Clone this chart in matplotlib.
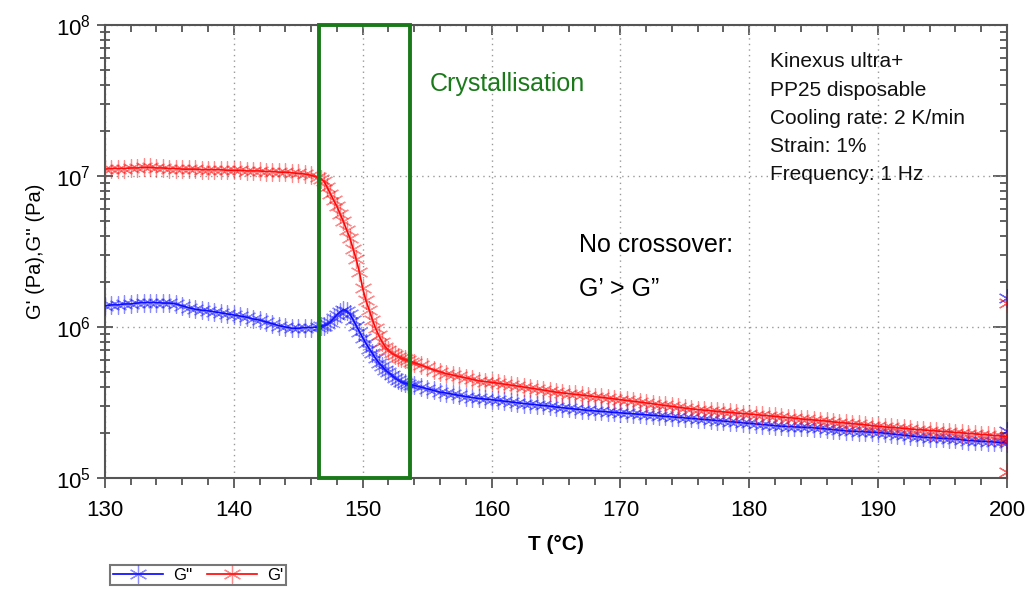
import numpy as np
import matplotlib.pyplot as plt
from matplotlib.patches import Rectangle
from matplotlib.ticker import LogLocator, MultipleLocator, NullFormatter

plt.rcParams['font.family'] = ['Liberation Sans', 'DejaVu Sans']

# temperature sampling, degC (denser through the crystallisation drop)
temp = np.concatenate([np.arange(130, 146.01, 0.5),
                       np.arange(146.5, 153.76, 0.25),
                       np.arange(154, 200.01, 0.5)])

# G' storage modulus (MPa)
g_storage_melt = [
    11.1, 11.2, 11.2, 11.2, 11.3, 11.3, 11.4, 11.4, 11.3, 11.3,   # 130-134.5
    11.2, 11.2, 11.1, 11.1, 11.1, 11.0, 11.0, 11.0, 11.0, 10.9,   # 135-139.5
    10.9, 10.9, 10.8, 10.8, 10.8, 10.7, 10.7, 10.6, 10.6, 10.5,   # 140-144.5
    10.4, 10.3, 10.1,                                             # 145-146
]
g_storage_drop = [
    9.8, 9.6, 9.2, 8.4, 7.6, 6.9, 6.3, 5.6, 5.0, 4.4,             # 146.5-148.75
    3.9, 3.3, 2.8, 2.3, 1.8, 1.5, 1.3, 1.12, 0.98, 0.88,          # 149-151.25
    0.80, 0.74, 0.70, 0.67, 0.65, 0.635, 0.62, 0.61, 0.60, 0.59,  # 151.5-153.75
]
g_storage_solid = [
    0.58, 0.56,                                                   # 154-154.5
    0.54, 0.52, 0.505, 0.49, 0.48, 0.47, 0.46, 0.45, 0.44, 0.435, # 155-159.5
    0.43, 0.424, 0.418, 0.412, 0.406, 0.40, 0.394, 0.388, 0.382, 0.376,  # 160-164.5
    0.37, 0.366, 0.362, 0.358, 0.354, 0.35, 0.346, 0.342, 0.338, 0.334,  # 165-169.5
    0.33, 0.326, 0.322, 0.318, 0.314, 0.31, 0.306, 0.302, 0.298, 0.294,  # 170-174.5
    0.29, 0.287, 0.284, 0.281, 0.279, 0.276, 0.274, 0.272, 0.269, 0.267,  # 175-179.5
    0.265, 0.263, 0.26, 0.258, 0.256, 0.253, 0.251, 0.249, 0.246, 0.244,  # 180-184.5
    0.242, 0.24, 0.238, 0.235, 0.233, 0.231, 0.229, 0.227, 0.225, 0.222,  # 185-189.5
    0.22, 0.218, 0.216, 0.215, 0.213, 0.211, 0.209, 0.208, 0.206, 0.205,  # 190-194.5
    0.203, 0.202, 0.2, 0.199, 0.197, 0.196, 0.194, 0.193, 0.191, 0.19,   # 195-199.5
    0.188,                                                           # 200
]

# G'' loss modulus (MPa)
g_loss_melt = [
    1.38, 1.40, 1.40, 1.42, 1.42, 1.44, 1.45, 1.45, 1.45, 1.44,   # 130-134.5
    1.44, 1.42, 1.38, 1.34, 1.31, 1.29, 1.28, 1.26, 1.24, 1.22,   # 135-139.5
    1.20, 1.18, 1.16, 1.13, 1.11, 1.08, 1.05, 1.02, 1.00, 0.98,   # 140-144.5
    0.98, 0.99, 0.99,                                             # 145-146
]
g_loss_drop = [
    1.00, 1.01, 1.02, 1.04, 1.08, 1.14, 1.20, 1.26, 1.30, 1.28,   # 146.5-148.75
    1.22, 1.12, 1.02, 0.93, 0.85, 0.78, 0.72, 0.67, 0.62, 0.58,   # 149-151.25
    0.55, 0.52, 0.50, 0.48, 0.46, 0.445, 0.43, 0.425, 0.42, 0.415,  # 151.5-153.75
]
g_loss_solid = [
    0.41, 0.40,                                                   # 154-154.5
    0.39, 0.38, 0.37, 0.365, 0.358, 0.352, 0.346, 0.341, 0.336, 0.333,  # 155-159.5
    0.33, 0.326, 0.322, 0.318, 0.314, 0.311, 0.308, 0.305, 0.302, 0.299,  # 160-164.5
    0.295, 0.292, 0.289, 0.286, 0.283, 0.28, 0.278, 0.276, 0.274, 0.272,  # 165-169.5
    0.27, 0.268, 0.266, 0.264, 0.262, 0.26, 0.258, 0.256, 0.254, 0.252,  # 170-174.5
    0.25, 0.248, 0.246, 0.244, 0.242, 0.24, 0.238, 0.236, 0.234, 0.232,  # 175-179.5
    0.23, 0.228, 0.226, 0.224, 0.222, 0.22, 0.219, 0.218, 0.217, 0.216,  # 180-184.5
    0.215, 0.213, 0.211, 0.209, 0.207, 0.205, 0.204, 0.203, 0.202, 0.201,  # 185-189.5
    0.2, 0.198, 0.196, 0.194, 0.192, 0.19, 0.188, 0.186, 0.185, 0.184,  # 190-194.5
    0.183, 0.182, 0.181, 0.179, 0.177, 0.176, 0.175, 0.174, 0.173, 0.172,  # 195-199.5
    0.17,                                                            # 200
]

# odd end points recorded at 200 degC (MPa)
stray_storage = [1.45, 0.11, 0.175]
stray_loss = [1.55, 0.205, 0.18]

crystal_range = (146.6, 153.7)

info_text = "Kinexus ultra+\nPP25 disposable\nCooling rate: 2 K/min\nStrain: 1%\nFrequency: 1 Hz"

gs = np.array(g_storage_melt + g_storage_drop + g_storage_solid) * 1e6
gl = np.array(g_loss_melt + g_loss_drop + g_loss_solid) * 1e6

fig = plt.figure(figsize=(10.31, 5.89), dpi=100)
ax = fig.add_axes([0.1018, 0.1885, 0.8749, 0.7691])

star = (6, 2, 0)
ax.plot(temp, gl, color='#0000ff', lw=1.2, marker=star, ms=13, mew=0.9,
        mec=(0.1, 0.1, 1, 0.5), label="G''", zorder=3)
ax.plot(temp, gs, color='#ff0000', lw=1.2, marker=star, ms=13, mew=0.9,
        mec=(1, 0.1, 0.1, 0.5), label="G'", zorder=4)
ax.plot([200] * len(stray_loss), np.array(stray_loss) * 1e6, ls='none',
        marker=star, ms=13, mew=0.9, color=(0, 0, 1, 0.6), zorder=3)
ax.plot([200] * len(stray_storage), np.array(stray_storage) * 1e6, ls='none',
        marker=star, ms=13, mew=0.9, color=(1, 0, 0, 0.6), zorder=4)

ax.set_yscale('log')
ax.set_xlim(130, 200)
ax.set_ylim(1e5, 1e8)

spine_col = '#555555'
for s in ax.spines.values():
    s.set_color(spine_col)
    s.set_linewidth(1.5)

ax.xaxis.set_major_locator(MultipleLocator(10))
ax.xaxis.set_minor_locator(MultipleLocator(2))
ax.yaxis.set_major_locator(LogLocator(base=10, numticks=10))
ax.yaxis.set_minor_locator(LogLocator(base=10, subs=np.arange(2, 10), numticks=20))
ax.yaxis.set_minor_formatter(NullFormatter())

ax.tick_params(axis='x', which='major', direction='out', length=7, width=1.3,
               color=spine_col, labelsize=16, pad=9)
ax.tick_params(axis='x', which='minor', direction='out', length=5, width=1.3,
               color=spine_col)
ax.tick_params(axis='y', which='major', direction='inout', length=12, width=1.3,
               color=spine_col, labelsize=16, pad=4)
ax.tick_params(axis='y', which='minor', direction='inout', length=7, width=1.3,
               color=spine_col)

# top and right ticks point inwards
top = ax.secondary_xaxis('top')
top.xaxis.set_major_locator(MultipleLocator(10))
top.xaxis.set_minor_locator(MultipleLocator(2))
top.tick_params(which='major', direction='in', length=7, width=1.3, color=spine_col,
                labeltop=False)
top.tick_params(which='minor', direction='in', length=5, width=1.3, color=spine_col)
top.spines['top'].set_visible(False)
right = ax.secondary_yaxis('right')
right.yaxis.set_major_locator(LogLocator(base=10, numticks=10))
right.yaxis.set_minor_locator(LogLocator(base=10, subs=np.arange(2, 10), numticks=20))
right.yaxis.set_minor_formatter(NullFormatter())
right.tick_params(which='major', direction='in', length=10, width=1.3, color=spine_col,
                  labelright=False)
right.tick_params(which='minor', direction='in', length=5, width=1.3, color=spine_col)
right.spines['right'].set_visible(False)

ax.grid(True, which='major', ls=(0, (1, 3)), color='#999999', lw=1.0)

ax.set_xlabel('T (°C)', fontsize=15, fontweight='bold', labelpad=10)
ax.set_ylabel("G' (Pa),G'' (Pa)", fontsize=14.5, labelpad=8)

ax.add_patch(Rectangle((crystal_range[0], 1e5), crystal_range[1] - crystal_range[0],
                       1e8 - 1e5, fill=False, ec='#1a7a1a', lw=2.8, clip_on=False,
                       zorder=5))
ax.text(155.2, 4.07e7, 'Crystallisation', color='#1a7a1a', fontsize=18,
        va='center', ha='left')
ax.text(181.6, 6.6e7, info_text, fontsize=15, va='top', ha='left',
        linespacing=1.62, color='#111111')
ax.text(166.8, 3.49e6, 'No crossover:', fontsize=18, va='center', ha='left')
ax.text(166.8, 1.78e6, 'G\u2019 > G\u201d', fontsize=18, va='center', ha='left')

leg = fig.legend(loc='lower left', bbox_to_anchor=(0.099, -0.008), ncol=2, fontsize=12,
                 handlelength=3.0, fancybox=False, edgecolor='#555555',
                 borderpad=0.15, columnspacing=0.9, handletextpad=0.6)
leg.get_frame().set_linewidth(1.5)

fig.savefig('out.png', dpi=100)
